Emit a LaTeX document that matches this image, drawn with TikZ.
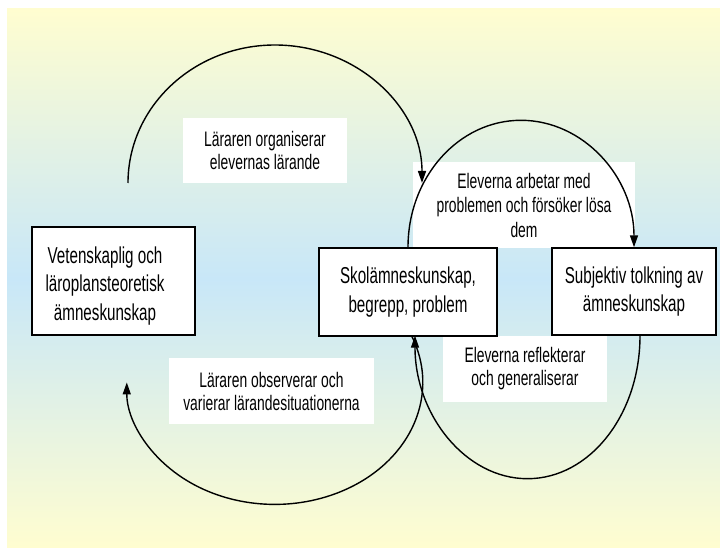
\documentclass[tikz,border=0pt]{standalone}
\usepackage{fontspec}
\newfontfamily\narrowsans[FakeStretch=0.66]{Liberation Sans}
\usetikzlibrary{arrows.meta}
\definecolor{paleyellow}{RGB}{255,253,208}
\definecolor{paleblue}{RGB}{200,231,248}
\begin{document}
\begin{tikzpicture}[x=1pt,y=-1pt,
  conceptbox/.style={draw=black, line width=1.4pt, fill=white, inner sep=0pt,
    font=\narrowsans\fontsize{23}{28.5}\selectfont, align=center},
  boxtext/.style={inner sep=0pt, font=\narrowsans\fontsize{23}{28.5}\selectfont, align=center},
  caption/.style={fill=white, inner sep=0pt,
    font=\narrowsans\fontsize{21}{23}\selectfont, align=center},
  flow/.style={line width=1.4pt, -{Triangle[length=12pt,width=8pt]}},
]
\useasboundingbox (0,0) rectangle (720,548);
% backdrop: yellow - blue - yellow
\shade[top color=paleyellow, bottom color=paleyellow, middle color=paleblue]
  (7,9) rectangle (720,548);

% white captions
\node[caption, minimum width=164pt, minimum height=65pt] (organise) at (265,150.5)
  {Läraren organiserar\\elevernas lärande};
\node[caption, minimum width=222pt, minimum height=86pt,
  font=\narrowsans\fontsize{21}{24.5}\selectfont] (work) at (524,205)
  {Eleverna arbetar med\\problemen och försöker lösa\\dem};
\node[caption, minimum width=164pt, minimum height=66pt] (reflect) at (525,369)
  {Eleverna reflekterar\\och generaliserar};
\node[caption, minimum width=205pt, minimum height=66pt] (observe) at (271.5,391)
  {Läraren observerar och\\varierar lärandesituationerna};

% concept boxes
\node[conceptbox, minimum width=163pt, minimum height=108pt] (science) at (113.5,281) {};
\node[boxtext] (sciencetext) at (105,286)
  {Vetenskaplig och\\läroplansteoretisk\\ämneskunskap};
\node[conceptbox, minimum width=178pt, minimum height=88pt] (school) at (408,292)
  {Skolämneskunskap,\\begrepp, problem};
\node[conceptbox, minimum width=164pt, minimum height=87pt] (subjective) at (634,291.5)
  {Subjektiv tolkning av\\ämneskunskap};

% outer cycle: teacher
\coordinate (teachstart) at (128,183);
\draw[flow] (teachstart) arc[start angle=180, end angle=0, x radius=147pt, y radius=138pt];
\draw[flow] ([xshift=4pt]school.south) arc[start angle=22, end angle=-180, x radius=148pt, y radius=122pt];

% inner cycle: pupils
\draw[flow] (school.north) arc[start angle=180, end angle=0, x radius=113pt, y radius=127pt];
\draw[flow] ([xshift=6pt]subjective.south) arc[start angle=0, end angle=-180, x radius=112.5pt, y radius=143pt];
\end{tikzpicture}
\end{document}
